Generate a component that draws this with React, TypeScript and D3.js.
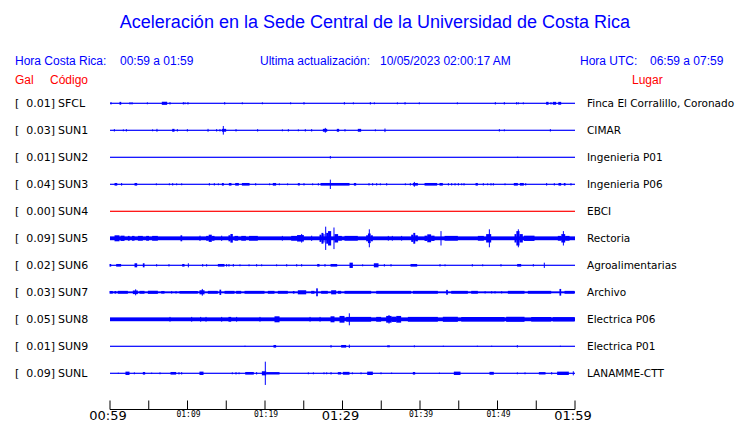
import React from "react";
import * as d3 from "d3";

// [start minute, end minute, relative amplitude] measured from 00:59
type Burst = [number, number, number];

const stations = ["SFCL", "SUN1", "SUN2", "SUN3", "SUN4", "SUN5", "SUN6", "SUN7", "SUN8", "SUN9", "SUNL"];
const peakGal = ["0.01", "0.03", "0.01", "0.04", "0.00", "0.09", "0.02", "0.03", "0.05", "0.01", "0.09"];
const places = [
  "Finca El Corralillo, Coronado",
  "CIMAR",
  "Ingenieria P01",
  "Ingenieria P06",
  "EBCI",
  "Rectoria",
  "Agroalimentarias",
  "Archivo",
  "Electrica P06",
  "Electrica P01",
  "LANAMME-CTT",
];
const noise = [0.04, 0.04, 0.04, 0.04, 0.04, 0.16, 0.05, 0.08, 0.16, 0.04, 0.04];
const traceColors = ["blue", "blue", "blue", "blue", "red", "blue", "blue", "blue", "blue", "blue", "blue"];

const timeTicks = ["00:59", "01:04", "01:09", "01:14", "01:19", "01:24", "01:29", "01:34", "01:39", "01:44", "01:49", "01:54", "01:59"];
const bigLabels = ["00:59", "01:29", "01:59"];
const smallLabels = ["01:09", "01:19", "01:39", "01:49"];

const sfcl: Burst[] = [
  [0.13, 0.13, 0.1], [1.29, 1.51, 0.12], [2.58, 2.58, 0.1], [2.84, 2.84, 0.1], [4.82, 4.82, 0.08],
  [6.75, 7.44, 0.13], [7.74, 7.74, 0.1], [9.46, 9.46, 0.1], [9.68, 9.68, 0.08], [10.06, 10.06, 0.1],
  [14.8, 14.8, 0.1], [17.07, 17.07, 0.08], [19.66, 19.66, 0.08], [23.31, 23.31, 0.08], [25.03, 25.03, 0.1],
  [30.24, 30.24, 0.1], [31.4, 31.4, 0.08], [33.59, 33.59, 0.1], [34.11, 34.11, 0.08], [37.08, 37.08, 0.08],
  [38.07, 38.07, 0.1], [39.91, 39.91, 0.08], [44.82, 44.82, 0.08], [49.72, 49.72, 0.1], [50.88, 50.88, 0.1],
  [52.47, 52.47, 0.1], [52.69, 52.69, 0.08], [53.33, 53.33, 0.08], [56.34, 56.65, 0.12], [56.9, 56.9, 0.1],
  [57.2, 57.63, 0.12], [57.9, 58.28, 0.12],
];
const sun1: Burst[] = [
  [0.56, 0.56, 0.1], [1.72, 1.72, 0.08], [2.11, 2.11, 0.1], [5.5, 5.5, 0.08], [6.06, 6.06, 0.12],
  [8.09, 8.39, 0.12], [8.69, 8.69, 0.1], [9.98, 9.98, 0.1], [12.65, 12.75, 0.12], [13.76, 13.76, 0.1],
  [14.19, 14.19, 0.1], [14.5, 15.05, 0.12], [14.62, 14.62, 0.36], [16.26, 16.26, 0.1], [19.05, 19.05, 0.1],
  [22.24, 22.24, 0.08], [23.01, 23.01, 0.1], [24.3, 24.3, 0.08], [25.2, 25.2, 0.1], [26.02, 26.02, 0.1],
  [27.53, 28.09, 0.12], [27.78, 27.78, 0.2], [29.33, 29.63, 0.12], [30.32, 30.32, 0.1], [32.04, 32.47, 0.12],
  [34.24, 34.24, 0.08], [35.48, 35.48, 0.15], [50.24, 50.24, 0.1], [50.88, 50.88, 0.08], [56.82, 56.82, 0.1],
];
const sun2: Burst[] = [[28.43, 28.43, 0.11], [52.6, 52.6, 0.05]];
const sun3: Burst[] = [
  [0.65, 1.0, 0.11], [1.5, 1.5, 0.11], [3.23, 3.57, 0.11], [5.98, 5.98, 0.08], [7.66, 7.66, 0.08],
  [8.09, 8.09, 0.1], [8.6, 8.6, 0.08], [9.25, 9.25, 0.08], [12.82, 12.82, 0.1], [13.46, 13.46, 0.1],
  [13.98, 13.98, 0.08], [14.5, 14.75, 0.11], [15.4, 15.74, 0.11], [16.22, 16.69, 0.11], [17.08, 18.07, 0.11],
  [18.8, 18.8, 0.1], [20.6, 20.6, 0.08], [21.07, 21.5, 0.11], [21.85, 21.85, 0.08], [22.92, 22.92, 0.08],
  [24.3, 24.56, 0.1], [25.03, 25.03, 0.1], [26.15, 26.15, 0.08], [26.88, 26.88, 0.1], [27.23, 30.97, 0.11],
  [28.43, 28.43, 0.39], [31.53, 31.83, 0.11], [33.42, 33.42, 0.1], [33.89, 33.89, 0.1], [34.41, 34.41, 0.1],
  [34.88, 34.88, 0.08], [35.7, 35.7, 0.1], [38.11, 38.11, 0.08], [38.75, 38.75, 0.1], [39.14, 39.79, 0.11],
  [39.27, 39.27, 0.2], [40.65, 42.28, 0.11], [42.58, 43.01, 0.11], [43.66, 43.66, 0.1], [44.09, 44.09, 0.1],
  [44.52, 44.52, 0.1], [44.95, 44.95, 0.1], [45.38, 45.38, 0.08], [45.68, 45.68, 0.1], [47.23, 47.53, 0.11],
  [48.17, 48.17, 0.1], [48.73, 48.73, 0.08], [49.16, 49.16, 0.1], [49.46, 49.46, 0.1], [50.97, 50.97, 0.08],
  [52.17, 52.69, 0.11], [52.95, 53.46, 0.11], [53.64, 53.64, 0.1], [56.34, 56.34, 0.11], [57.33, 57.33, 0.1],
  [57.93, 58.28, 0.11], [58.62, 58.84, 0.11], [59.48, 59.48, 0.1],
];
const sun4: Burst[] = [];
const sun5: Burst[] = [
  [0.65, 1.29, 0.25], [1.42, 1.94, 0.22], [2.37, 2.6, 0.2], [2.9, 3.23, 0.2], [3.66, 4.3, 0.2],
  [4.73, 5.1, 0.2], [5.5, 6.24, 0.2], [9.16, 9.38, 0.25], [11.61, 11.61, 0.22],
  [12.47, 12.8, 0.2], [12.8, 13.2, 0.3], [13.2, 13.55, 0.2],
  [14.41, 14.41, 0.22], [15.35, 15.6, 0.25], [15.6, 15.91, 0.36], [16.13, 16.6, 0.2], [17.0, 17.6, 0.2], [18.0, 19.14, 0.2],
  [22.24, 22.24, 0.2], [23.44, 24.2, 0.2], [24.2, 25.08, 0.27], [24.73, 24.73, 0.36], [26.02, 26.02, 0.22],
  [27.1, 27.35, 0.3], [27.35, 27.6, 0.45], [27.6, 27.74, 0.35], [27.83, 27.83, 0.97],
  [27.96, 28.2, 0.45], [28.2, 28.6, 0.6], [28.9, 28.9, 0.9], [29.03, 29.5, 0.35], [29.5, 29.98, 0.2],
  [30.32, 32.04, 0.2], [33.12, 33.35, 0.25], [33.35, 33.7, 0.4], [33.7, 33.98, 0.25], [33.46, 33.46, 0.75],
  [35.91, 35.91, 0.2], [36.43, 36.43, 0.2], [37.63, 37.63, 0.2],
  [38.93, 39.2, 0.3], [39.2, 39.45, 0.45], [39.45, 39.79, 0.25],
  [40.65, 41.0, 0.22], [41.0, 41.5, 0.33], [41.5, 41.94, 0.22], [42.71, 42.71, 0.6], [43.23, 44.95, 0.2],
  [47.53, 48.3, 0.2], [48.6, 49.25, 0.35], [48.95, 48.95, 0.75],
  [52.26, 52.5, 0.35], [52.5, 52.9, 0.6], [52.9, 53.33, 0.35], [52.69, 52.69, 0.75], [53.46, 54.84, 0.22],
  [57.85, 58.3, 0.2], [58.3, 58.8, 0.35], [58.8, 59.36, 0.2], [58.5, 58.5, 0.6],
];
const sun6: Burst[] = [
  [0.0, 0.22, 0.11], [0.86, 1.5, 0.11], [3.23, 3.57, 0.17], [4.3, 4.52, 0.17], [6.02, 6.02, 0.1],
  [7.61, 7.61, 0.1], [9.38, 9.68, 0.11], [10.11, 10.11, 0.17], [11.96, 11.96, 0.11], [12.47, 12.47, 0.1],
  [13.98, 14.84, 0.11], [15.05, 15.05, 0.11], [15.35, 15.35, 0.11], [15.91, 15.91, 0.11], [16.77, 16.77, 0.08],
  [17.94, 17.94, 0.08], [18.92, 18.92, 0.1], [19.57, 19.57, 0.08], [21.5, 21.5, 0.08], [22.8, 22.8, 0.1],
  [24.09, 24.09, 0.1], [24.73, 24.73, 0.1], [26.8, 27.1, 0.11], [27.74, 27.74, 0.11], [28.52, 29.38, 0.11],
  [30.97, 31.4, 0.22], [32.6, 32.6, 0.08], [34.11, 34.71, 0.17], [35.4, 35.4, 0.1], [36.26, 36.26, 0.1],
  [38.84, 39.7, 0.11], [42.58, 42.58, 0.1], [43.23, 43.23, 0.08], [46.75, 46.75, 0.1], [48.09, 48.09, 0.08],
  [50.45, 50.45, 0.1], [52.6, 53.12, 0.11], [54.62, 54.62, 0.1], [56.04, 56.04, 0.22],
];
const sun7: Burst[] = [
  [0.0, 0.43, 0.11], [0.65, 0.86, 0.11], [1.07, 2.37, 0.12], [3.01, 3.66, 0.15], [3.31, 3.31, 0.25],
  [3.87, 4.52, 0.12], [4.95, 6.24, 0.13], [6.67, 7.1, 0.11], [7.96, 7.96, 0.11], [8.52, 8.52, 0.11],
  [9.03, 11.4, 0.11], [11.61, 12.26, 0.17], [11.91, 11.91, 0.28], [12.69, 13.98, 0.12], [14.19, 14.41, 0.22],
  [14.84, 16.13, 0.12], [16.34, 16.99, 0.12], [17.42, 20.0, 0.12], [20.43, 21.29, 0.12], [21.72, 23.01, 0.12],
  [23.66, 23.87, 0.11], [24.3, 25.38, 0.17], [26.02, 26.45, 0.12], [26.67, 26.88, 0.33], [27.31, 28.17, 0.12],
  [28.6, 29.25, 0.17], [29.46, 29.89, 0.12], [30.32, 33.76, 0.12], [34.41, 38.93, 0.12], [39.14, 42.37, 0.12],
  [43.44, 43.66, 0.2], [44.09, 46.24, 0.12], [46.67, 47.53, 0.12], [48.4, 48.4, 0.1], [49.25, 49.25, 0.1],
  [49.68, 49.68, 0.1], [50.54, 50.54, 0.1], [51.4, 53.55, 0.12], [53.98, 56.99, 0.12], [58.06, 58.28, 0.28],
  [58.71, 60.0, 0.12],
];
const sun8: Burst[] = [
  [7.74, 7.74, 0.2], [10.54, 10.54, 0.2], [11.7, 11.7, 0.2], [12.39, 12.39, 0.2], [14.41, 14.41, 0.2],
  [15.35, 15.7, 0.2], [16.34, 16.34, 0.2], [19.35, 19.35, 0.2], [21.29, 21.94, 0.25], [25.81, 25.81, 0.2],
  [27.1, 27.1, 0.2], [28.52, 29.03, 0.25], [29.68, 30.32, 0.28], [30.88, 30.88, 0.5], [30.54, 33.76, 0.2],
  [34.41, 35.05, 0.2], [35.7, 36.4, 0.28], [36.4, 37.0, 0.22], [37.0, 37.63, 0.28], [36.0, 36.0, 0.36],
  [38.5, 42.37, 0.2], [43.01, 44.95, 0.21], [45.38, 50.97, 0.19], [51.18, 53.55, 0.21], [54.41, 56.99, 0.19],
  [57.2, 60.0, 0.18],
];
const sun9: Burst[] = [
  [17.42, 17.42, 0.05], [21.16, 21.5, 0.11], [28.52, 28.52, 0.11], [29.89, 30.54, 0.11], [30.88, 30.88, 0.14],
  [35.83, 36.17, 0.08], [39.27, 39.27, 0.08], [43.01, 43.01, 0.05], [47.4, 47.4, 0.05], [49.25, 49.25, 0.05],
  [52.56, 52.56, 0.1], [58.11, 58.11, 0.05],
];
const sunl: Burst[] = [
  [1.07, 1.07, 0.05], [2.06, 2.58, 0.14], [3.14, 3.14, 0.08], [4.3, 4.6, 0.11], [5.38, 5.38, 0.06],
  [6.45, 6.45, 0.08], [7.87, 8.6, 0.11], [8.9, 8.9, 0.1], [9.25, 9.25, 0.1], [11.61, 12.13, 0.14],
  [15.78, 15.78, 0.08], [16.26, 16.26, 0.1], [16.65, 16.65, 0.08], [17.51, 18.62, 0.11], [18.92, 18.92, 0.1],
  [19.66, 20.22, 0.17], [20.04, 20.04, 0.97], [20.22, 21.94, 0.1], [25.59, 25.59, 0.08], [26.24, 26.24, 0.08],
  [27.61, 27.61, 0.08], [27.96, 27.96, 0.08], [28.52, 28.52, 0.1], [29.46, 29.89, 0.1], [30.11, 30.97, 0.12],
  [31.27, 31.27, 0.08], [32.39, 32.39, 0.08], [33.25, 33.98, 0.14], [34.97, 34.97, 0.08], [36.34, 36.34, 0.06],
  [39.14, 39.44, 0.11], [42.5, 42.5, 0.06], [44.43, 45.29, 0.14], [49.03, 49.59, 0.12], [52.56, 52.56, 0.08],
  [53.55, 53.55, 0.08], [55.4, 56.26, 0.1], [56.99, 56.99, 0.1], [57.76, 59.27, 0.14], [59.78, 59.78, 0.17],
];
const bursts: Burst[][] = [sfcl, sun1, sun2, sun3, sun4, sun5, sun6, sun7, sun8, sun9, sunl];

const W = 740;
const H = 423;
const toMin = (t: string) => {
  const [h, m] = t.split(":").map(Number);
  return (h * 60 + m) - 59;
};

export default function App() {
  const x = d3.scaleLinear().domain([0, 60]).range([110, 575]);
  const y = d3.scalePoint<string>().domain(stations).range([103.3, 373.3]);
  const amp = d3.scaleLinear().domain([0, 1]).range([0, 12]);
  const axisY = 409.5;
  const blue = "#0000ff";
  const sans = "'Liberation Sans', Arial, sans-serif";
  const dv = "'DejaVu Sans', sans-serif";

  return (
    <svg width={W} height={H} style={{ position: "absolute", left: 0, top: 0, background: "white" }}>
      <text x={375} y={28} textAnchor="middle" fontFamily={sans} fontSize={18} fill={blue}>
        Aceleración en la Sede Central de la Universidad de Costa Rica
      </text>

      <g fontFamily={sans} fontSize={12} fill={blue}>
        <text x={15} y={65}>Hora Costa Rica:</text>
        <text x={120} y={65}>00:59 a 01:59</text>
        <text x={260} y={65}>Ultima actualización:</text>
        <text x={380} y={65}>10/05/2023 02:00:17 AM</text>
        <text x={580} y={65}>Hora UTC:</text>
        <text x={650} y={65}>06:59 a 07:59</text>
      </g>
      <g fontFamily={sans} fontSize={12} fill="#ff0000">
        <text x={15} y={84}>Gal</text>
        <text x={50} y={84}>Código</text>
        <text x={632} y={84}>Lugar</text>
      </g>

      {stations.map((s, i) => {
        const cy = y(s)!;
        const base = Math.max(0.6, amp(noise[i]));
        return (
          <g key={s}>
            <g fontFamily={dv} fontSize={11} fill="#000">
              <text x={15} y={cy + 4}>[</text>
              <text x={55} y={cy + 4} textAnchor="end">{peakGal[i]}]</text>
              <text x={58} y={cy + 4}>{s}</text>
            </g>
            <text x={587} y={cy + 4} fontFamily={dv} fontSize={10.5} fill="#000">{places[i]}</text>
            <rect x={x(0)} y={cy - base} width={x(60) - x(0)} height={base * 2} fill={traceColors[i]} />
            {bursts[i].map(([s0, s1, a], j) => {
              const h = Math.max(base, amp(a));
              return (
                <rect
                  key={j}
                  x={x(s0) - 0.5}
                  y={cy - h}
                  width={Math.max(1, x(s1) - x(s0))}
                  height={h * 2}
                  fill={traceColors[i]}
                />
              );
            })}
          </g>
        );
      })}

      <line x1={x(0)} x2={x(60)} y1={axisY} y2={axisY} stroke="#000" strokeWidth={1} />
      {timeTicks.map((t) => (
        <line key={t} x1={x(toMin(t))} x2={x(toMin(t))} y1={axisY} y2={axisY - 9} stroke="#000" strokeWidth={1} />
      ))}
      {bigLabels.map((t) => (
        <text key={t} x={x(toMin(t)) - 2} y={420} textAnchor="middle" fontFamily={dv} fontSize={13} fill="#000">
          {t}
        </text>
      ))}
      {smallLabels.map((t) => (
        <text key={t} x={x(toMin(t)) + 1} y={417} textAnchor="middle" fontFamily="'DejaVu Sans Mono', monospace" fontSize={8} fill="#000">
          {t}
        </text>
      ))}
    </svg>
  );
}
